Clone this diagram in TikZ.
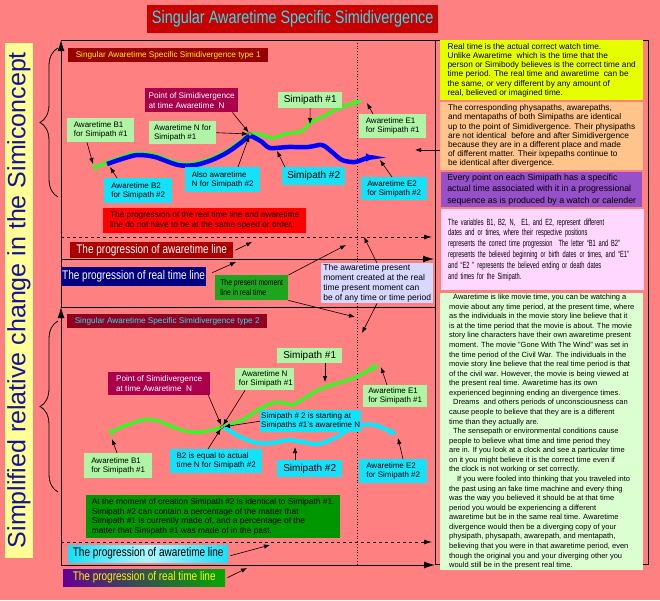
\documentclass[tikz,border=0pt]{standalone}
\usepackage{fontspec}
\setmainfont{Liberation Sans}
\newfontfamily\estrecha[FakeStretch=0.8]{Liberation Sans}
\newfontfamily\angosta[FakeStretch=0.63]{Liberation Sans}
\usepackage{tikz}
\usetikzlibrary{arrows.meta,calc,decorations.pathreplacing}
\definecolor{fondo}{RGB}{255,128,128}
\definecolor{rojotitulo}{RGB}{200,0,0}
\definecolor{cianletra}{RGB}{40,225,240}
\definecolor{granate}{RGB}{150,0,0}
\definecolor{granatedos}{RGB}{145,0,35}
\definecolor{frambuesa}{RGB}{170,0,75}
\definecolor{verdepal}{RGB}{175,245,165}
\definecolor{cianclaro}{RGB}{20,225,250}
\definecolor{rojovivo}{RGB}{255,0,0}
\definecolor{burdeos}{RGB}{170,0,0}
\definecolor{marino}{RGB}{0,0,130}
\definecolor{verdemedio}{RGB}{30,165,30}
\definecolor{lila}{RGB}{215,215,255}
\definecolor{amarillo}{RGB}{230,255,0}
\definecolor{melocoton}{RGB}{255,195,140}
\definecolor{morado}{RGB}{150,80,200}
\definecolor{rosa}{RGB}{255,215,255}
\definecolor{menta}{RGB}{220,255,210}
\definecolor{verdeoscuro}{RGB}{0,150,0}
\definecolor{violeta}{RGB}{100,0,150}
\definecolor{verdereal}{RGB}{0,170,0}
\definecolor{crema}{RGB}{255,255,150}
\definecolor{tinta}{RGB}{20,20,150}
\definecolor{verdecamino}{RGB}{60,245,40}
\definecolor{azulcamino}{RGB}{0,0,255}
\definecolor{ciancamino}{RGB}{0,235,255}

\begin{document}
\begin{tikzpicture}[x=1pt, y=-1pt,
  caja/.style={anchor=north west, inner sep=1pt, align=left,
    font=\fontsize{8}{9.3}\selectfont},
  claro/.style={caja, fill=verdepal},
  cian/.style={caja, fill=cianclaro},
  grande/.style={font=\fontsize{10}{12}\selectfont, align=center},
  punto/.style={caja, fill=frambuesa, text=white, font=\fontsize{8.2}{10}\selectfont},
  tipo/.style={caja, align=center, font=\fontsize{8.2}{10}\selectfont,
    minimum width=200pt, minimum height=14pt},
  etiq/.style={caja, align=center, font=\estrecha\fontsize{12.5}{14}\selectfont},
  texto/.style={caja, inner xsep=4pt, minimum width=203pt},
  flecha/.style={-{Latex[length=6pt,width=4.5pt]}, line width=0.6pt},
  eje/.style={-{Latex[length=11pt,width=7pt]}, line width=1pt},
  discont/.style={-{Latex[length=8pt,width=5pt]}, dashed, line width=0.8pt},
  marca/.style={circle, fill=verdecamino, draw=black!70, inner sep=1.3pt},
  llave/.style={decorate, decoration={brace, amplitude=18pt}, line width=0.8pt},
]
\fill[fondo] (0,0) rectangle (660,600);
\useasboundingbox (0,0) rectangle (660,600);

\node[caja, fill=rojotitulo, text=cianletra, align=center, minimum width=291pt,
  minimum height=28pt, font=\estrecha\fontsize{18}{20}\selectfont] (titulo) at (147,5)
  {Singular Awaretime Specific Simidivergence};
\node[fill=crema, text=tinta, rotate=90, minimum width=515pt, minimum height=28pt,
  inner sep=0pt, font=\fontsize{25}{28}\selectfont] (franja) at (19,300)
  {Simplified relative change in the Simiconcept};
\draw[llave] (58,197) -- (58,48);
\draw[llave] (58,492) -- (58,321);

\draw[line width=0.8pt] (61,40) -- (435,40);
\draw[line width=1pt] (435,40) rectangle (648,564);
\draw[eje] (61,307) -- (61,40);
\draw[eje] (61,565) -- (61,307);
\draw[line width=0.8pt] (61,307) -- (435,307);
\draw[dotted, line width=0.8pt] (357,40) -- (357,565);
\draw[discont] (61,237) -- (432,237);
\draw[eje] (61,259) -- (434,259);
\draw[discont] (61,542) -- (432,542);
\draw[eje] (61,565) -- (435,565);

\draw[verdecamino, line width=3.5pt, {Bar[width=9pt,line width=1.5pt]}-{Latex[length=9pt,width=8pt]}]
  plot[smooth] coordinates {(94,168) (108,162) (125,156) (138,153) (155,155) (178,163)
  (195,163) (212,158) (228,150) (242,140) (250,134) (262,135) (272,138) (285,134)
  (302,131) (310,123) (322,117) (335,110) (348,105) (363,100)};
\draw[azulcamino, line width=4.5pt, -{Latex[length=10pt,width=9pt]}]
  plot[smooth] coordinates {(107,164) (125,158) (138,155) (155,157) (178,165) (195,165)
  (212,160) (228,152) (242,142) (250,136) (262,142) (270,148) (288,147) (308,147)
  (322,145) (332,152) (342,160) (355,162) (367,158) (376,157)};
\node[marca] (div1) at (250,134) {};

\draw[verdecamino, line width=3.5pt, {Bar[width=9pt,line width=1.5pt]}-{Latex[length=9pt,width=8pt]}]
  plot[smooth] coordinates {(110,433) (122,427) (142,420) (155,420) (168,425) (185,431)
  (202,432) (222,427) (242,420) (258,410) (272,403) (285,403) (292,405) (305,398)
  (318,390) (332,385) (345,381) (358,376) (380,364)};
\draw[ciancamino, line width=4pt, -{Latex[length=9pt,width=8pt]}]
  plot[smooth] coordinates {(223,427) (230,431) (242,438) (258,443) (272,443) (288,440)
  (302,442) (318,444) (335,438) (348,430) (362,425) (375,425) (387,430) (398,435)};
\node[marca] (div2) at (222,427) {};

\node[tipo, fill=granate, text=yellow] (tipo1) at (68,48)
  {Singular Awaretime Specific Simidivergence type 1};
\node[punto, minimum width=93pt, minimum height=24pt] (punto1) at (145,88)
  {Point of Simidivergence\\at time Awaretime\ \ N};
\node[claro, grande, minimum width=64pt, minimum height=16pt] (sim1a) at (278,92) {Simipath \#1};
\node[claro, minimum width=67pt, minimum height=24pt] (b1a) at (67,118) {Awaretime B1\\for Simipath \#1};
\node[claro, minimum width=67pt, minimum height=23pt] (n1a) at (149,121) {Awaretime N for\\Simipath \#1};
\node[claro, minimum width=67pt, minimum height=24pt] (e1a) at (359,114) {Awaretime E1\\for Simipath \#1};
\node[cian, minimum width=75pt, minimum height=25pt] (tambien) at (185,167) {Also awaretime\\N for Simipath \#2};
\node[cian, grande, minimum width=63pt, minimum height=18pt] (sim2a) at (282,167) {Simipath \#2};
\node[cian, minimum width=68pt, minimum height=25pt] (b2a) at (104,178) {Awaretime B2\\for Simipath \#2};
\node[cian, minimum width=66pt, minimum height=23pt] (e2a) at (361,177) {Awaretime E2\\for Simipath \#2};
\node[caja, fill=rojovivo, minimum width=203pt, minimum height=25pt,
  font=\fontsize{8.3}{10}\selectfont] (aviso) at (103,208)
  {The progression of the real time line and awaretime\\line do not have to be at the same speed or order.};
\node[etiq, fill=burdeos, text=white, minimum width=163pt, minimum height=16pt] (conc1) at (70,242)
  {The progression of awaretime line};
\node[etiq, fill=marino, text=white, minimum width=142pt, minimum height=19pt] (real1) at (61,267)
  {The progression of real time line};
\node[caja, fill=verdemedio, minimum width=73pt, minimum height=25pt,
  font=\estrecha\fontsize{8.5}{10}\selectfont] (presente) at (215,275)
  {The present moment\\line in real time};
\node[caja, fill=lila, minimum width=112pt, minimum height=40pt,
  font=\fontsize{8.5}{10}\selectfont] (lila) at (321,263)
  {The awaretime present\\moment created at the real\\time present moment can\\be of any time or time period};

\node[tipo, fill=granatedos, text=cianletra] (tipo2) at (67,314)
  {Singular Awaretime Specific Simidivergence type 2};
\node[claro, grande, minimum width=65pt, minimum height=15pt] (sim1b) at (277,348) {Simipath \#1};
\node[punto, minimum width=102pt, minimum height=23pt] (punto2) at (108,372)
  {Point of Simidivergence\\at time Awaretime\ \ N};
\node[claro, align=center, minimum width=59pt, minimum height=22pt] (n1b) at (235,368) {Awaretime N\\\ for Simipath \#1};
\node[claro, minimum width=64pt, minimum height=22pt] (e1b) at (363,385) {Awaretime E1\\for Simipath \#1};
\node[cian, minimum width=97pt, minimum height=22pt] (inicio) at (260,410)
  {Simipath \# 2 is starting at\\Simipaths \#1's awaretime N};
\node[claro, minimum width=68pt, minimum height=25pt] (b1b) at (84,453) {Awaretime B1\\for Simipath \#1};
\node[cian, minimum width=92pt, minimum height=24pt] (b2b) at (170,449) {B2 is equal to actual\\time N for Simipath \#2};
\node[cian, grande, minimum width=65pt, minimum height=17pt] (sim2b) at (277,460) {Simipath \#2};
\node[cian, minimum width=68pt, minimum height=24pt] (e2b) at (359,459) {Awaretime E2\\for Simipath \#2};
\node[caja, fill=verdeoscuro, minimum width=254pt, minimum height=43pt,
  font=\fontsize{8.4}{9.7}\selectfont] (verde) at (86,495)
  {At the moment of creation Simipath \#2 is identical to Simipath \#1.\\
   Simipath \#2 can contain a percentage of the matter that\\
   Simipath \#1 is currently made of, and a percentage of the\\
   matter that Simipath \#1 was made of in the past.};
\node[etiq, left color=cianclaro, right color=cianclaro, middle color=cianclaro!35!white,
  minimum width=160pt, minimum height=17pt] (conc2) at (68,545) {The progression of awaretime line};
\node[etiq, left color=violeta, right color=verdereal, text=yellow,
  minimum width=162pt, minimum height=17pt] (real2) at (63,569) {The progression of real time line};

\node[texto, fill=amarillo, minimum height=60pt, font=\fontsize{8.3}{9.2}\selectfont] (amarillo) at (440,40)
  {Real time is the actual correct watch time.\\
   Unlike Awaretime\ \ which is the time that the\\
   person or Simibody believes is the correct time and\\
   time period. The real time and awaretime\ \ can be\\
   the same, or very different by any amount of\\
   real, believed or imagined time.};
\node[texto, fill=melocoton, minimum height=68pt, font=\fontsize{8.3}{9.2}\selectfont] (naranja) at (440,102)
  {The corresponding physapaths, awarepaths,\\
   and mentapaths of both Simipaths are identical\\
   up to the point of Simidivergence. Their physipaths\\
   are not identical\ \ before and after Simidivergence\\
   because they are in a different place and made\\
   of different matter. Their ixpepaths continue to\\
   be identical after divergence.};
\node[texto, fill=morado, minimum width=201pt, minimum height=35pt, font=\fontsize{8.8}{11.5}\selectfont] (morado) at (441,172)
  {Every point on each Simipath has a specific\\
   actual time associated with it in a progressional\\
   sequence as is produced by a watch or calender};
\node[texto, fill=rosa, inner xsep=6pt, text width=189pt, minimum height=81pt,
  font=\angosta\fontsize{9}{10.8}\selectfont] (rosa) at (441,209)
  {The variables B1, B2, N,\ \ E1, and E2, represent different\\
   dates and or times, where their respective positions\\
   represents the correct time progression\ \ The letter “B1 and B2”\\
   represents the believed beginning or birth dates or times, and “E1”\\
   and “E2 ” represents the believed ending or death dates\\
   and times for the Simipath.};
\node[texto, fill=menta, minimum height=269pt, font=\fontsize{7.5}{9.57}\selectfont] (claro) at (440,293)
  {\hspace*{4pt}Awaretime is like movie time, you can be watching a\\
   movie about any time period, at the present time, where\\
   as the individuals in the movie story line believe that it\\
   is at the time period that the movie is about. The movie\\
   story line characters have their own awaretime present\\
   moment. The movie "Gone With The Wind" was set in\\
   the time period of the Civil War. The individuals in the\\
   movie story line believe that the real time period is that\\
   of the civil war. However, the movie is being viewed at\\
   the present real time. Awaretime has its own\\
   experienced beginning ending an divergence times.\\
   \hspace*{4pt}Dreams\ \ and others periods of unconsciousness can\\
   cause people to believe that they are is a different\\
   time than they actually are.\\
   \hspace*{4pt}The sensepath or environmental conditions cause\\
   people to believe what time and time period they\\
   are in. If you look at a clock and see a particular time\\
   on it you might believe it is the correct time even if\\
   the clock is not working or set correctly.\\
   \hspace*{8pt}If you were fooled into thinking that you traveled into\\
   the past using an fake time machine and every thing\\
   was the way you believed it should be at that time\\
   period you would be experiencing a different\\
   awaretime but be in the same real time. Awaretime\\
   divergence would then be a diverging copy of your\\
   physipath, physapath, awarepath, and mentapath,\\
   believing that you were in that awaretime period, even\\
   though the original you and your diverging other you\\
   would still be in the present real time.};

\coordinate (g1) at (310,124);
\coordinate (g1fin) at (367,103);
\coordinate (g1ini) at (93,164);
\coordinate (b2ini) at (110,167);
\coordinate (az1) at (277,151);
\coordinate (az1fin) at (380,160);
\coordinate (flechaN) at (415,150);
\coordinate (aw1) at (252,242);
\coordinate (rt1) at (236,262);
\coordinate (pm1) at (346,245);
\coordinate (pm2) at (355,317);
\coordinate (lp1) at (364,237);
\coordinate (lp2) at (362,333);
\coordinate (g2) at (325,382);
\coordinate (g2fin) at (381,367);
\coordinate (g2ini) at (112,439);
\coordinate (c2) at (295,447);
\coordinate (c2fin) at (398,438);
\coordinate (aw2) at (270,545);
\coordinate (rt2) at (247,568);

\draw[flecha] ($(punto1.south east)+(-6,0)$) -- (div1);
\draw[flecha] (n1a.east) -- (div1);
\draw[flecha] (sim1a.south) -- (g1);
\draw[flecha] ($(e1a.north west)+(14,0)$) -- (g1fin);
\draw[flecha] ($(b1a.south west)+(20,0)$) -- (g1ini);
\draw[flecha] ($(b2a.north west)+(13,0)$) -- (b2ini);
\draw[flecha] ($(tambien.north west)+(53,0)$) -- (div1);
\draw[flecha] ($(sim2a.north west)+(3,0)$) -- (az1);
\draw[flecha] ($(e2a.north west)+(31,0)$) -- (az1fin);
\draw[flecha] (naranja.west |- flechaN) -- (flechaN);
\draw[flecha] ($(conc1.east)+(2,0)$) -- (aw1);
\draw[flecha] ($(real1.east)+(6,-4)$) -- (rt1);
\draw[flecha] (presente.north east) -- (pm1);
\draw[flecha] (presente.south east) -- (pm2);
\draw[flecha] ($(lila.north west)+(56,0)$) -- (lp1);
\draw[flecha] ($(lila.south west)+(56,0)$) -- (lp2);

\draw[flecha] ($(sim1b.south west)+(48,0)$) -- (g2);
\draw[flecha] ($(e1b.north west)+(24,0)$) -- (g2fin);
\draw[flecha] ($(punto2.south east)+(-2,0)$) -- (div2);
\draw[flecha] ($(n1b.south west)+(10,0)$) -- (div2);
\draw[flecha] (inicio.west) -- (div2);
\draw[flecha] ($(b2b.north west)+(38,0)$) -- (div2);
\draw[flecha] ($(b1b.north west)+(33,0)$) -- (g2ini);
\draw[flecha] ($(sim2b.north west)+(18,0)$) -- (c2);
\draw[flecha] ($(e2b.north west)+(44,0)$) -- (c2fin);
\draw[flecha] ($(conc2.east)+(2,2)$) -- (aw2);
\draw[flecha] ($(real2.east)+(2,0)$) -- (rt2);
\end{tikzpicture}
\end{document}
